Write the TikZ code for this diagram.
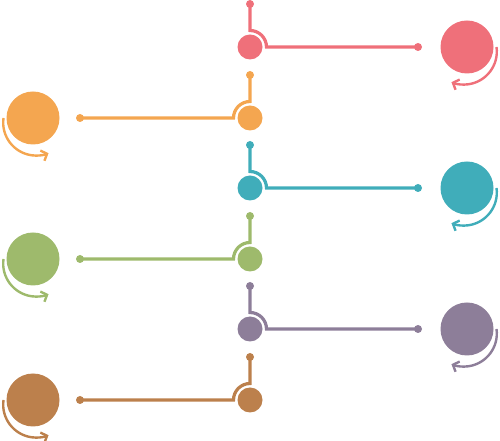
\documentclass[tikz,border=0pt]{standalone}
\usetikzlibrary{arrows.meta}
\definecolor{firststep}{RGB}{239,112,122}
\definecolor{secondstep}{RGB}{244,166,80}
\definecolor{thirdstep}{RGB}{64,173,186}
\definecolor{fourthstep}{RGB}{158,186,108}
\definecolor{fifthstep}{RGB}{141,126,153}
\definecolor{sixthstep}{RGB}{188,128,76}

\begin{document}
\begin{tikzpicture}[x=1pt, y=1pt]
    \tikzstyle{every node} = [circle, inner sep=0pt]
    \tikzstyle{hub} = [minimum size=25pt]
    \tikzstyle{dot} = [minimum size=8pt]
    \tikzstyle{disc} = [minimum size=53pt]
    \tikzstyle{branch} = [line width=3.2pt]
    \tikzstyle{turn} = [line width=2.4pt, -{Straight Barb[length=5pt, width=11pt]}]
    \useasboundingbox (0,0) rectangle (500,441);

    \node[hub, fill=firststep] (hubA) at (250,394) {};
    \node[dot, fill=firststep] (topA) at (250,437) {};
    \node[dot, fill=firststep] (endA) at (418,394) {};
    \node[disc, fill=firststep] (discA) at (467,394) {};
    \draw[branch, firststep] (topA.center) -- ([yshift=16.5pt]hubA.center)
        arc[start angle=90, end angle=0, radius=16.5pt] -- (endA.center);
    \draw[turn, firststep] ([shift={(29.5pt,0pt)}]discA.center)
        arc[start angle=8, end angle=-112, radius=33pt];

    \node[hub, fill=secondstep] (hubB) at (250,323) {};
    \node[dot, fill=secondstep] (topB) at (250,366) {};
    \node[dot, fill=secondstep] (endB) at (80,323) {};
    \node[disc, fill=secondstep] (discB) at (33,323) {};
    \draw[branch, secondstep] (topB.center) -- ([yshift=16.5pt]hubB.center)
        arc[start angle=90, end angle=180, radius=16.5pt] -- (endB.center);
    \draw[turn, secondstep] ([shift={(-29.5pt,0pt)}]discB.center)
        arc[start angle=172, end angle=292, radius=33pt];

    \node[hub, fill=thirdstep] (hubC) at (250,253) {};
    \node[dot, fill=thirdstep] (topC) at (250,296) {};
    \node[dot, fill=thirdstep] (endC) at (418,253) {};
    \node[disc, fill=thirdstep] (discC) at (467,253) {};
    \draw[branch, thirdstep] (topC.center) -- ([yshift=16.5pt]hubC.center)
        arc[start angle=90, end angle=0, radius=16.5pt] -- (endC.center);
    \draw[turn, thirdstep] ([shift={(29.5pt,0pt)}]discC.center)
        arc[start angle=8, end angle=-112, radius=33pt];

    \node[hub, fill=fourthstep] (hubD) at (250,182) {};
    \node[dot, fill=fourthstep] (topD) at (250,225) {};
    \node[dot, fill=fourthstep] (endD) at (80,182) {};
    \node[disc, fill=fourthstep] (discD) at (33,182) {};
    \draw[branch, fourthstep] (topD.center) -- ([yshift=16.5pt]hubD.center)
        arc[start angle=90, end angle=180, radius=16.5pt] -- (endD.center);
    \draw[turn, fourthstep] ([shift={(-29.5pt,0pt)}]discD.center)
        arc[start angle=172, end angle=292, radius=33pt];

    \node[hub, fill=fifthstep] (hubE) at (250,112) {};
    \node[dot, fill=fifthstep] (topE) at (250,155) {};
    \node[dot, fill=fifthstep] (endE) at (418,112) {};
    \node[disc, fill=fifthstep] (discE) at (467,112) {};
    \draw[branch, fifthstep] (topE.center) -- ([yshift=16.5pt]hubE.center)
        arc[start angle=90, end angle=0, radius=16.5pt] -- (endE.center);
    \draw[turn, fifthstep] ([shift={(29.5pt,0pt)}]discE.center)
        arc[start angle=8, end angle=-112, radius=33pt];

    \node[hub, fill=sixthstep] (hubF) at (250,41) {};
    \node[dot, fill=sixthstep] (topF) at (250,84) {};
    \node[dot, fill=sixthstep] (endF) at (80,41) {};
    \node[disc, fill=sixthstep] (discF) at (33,41) {};
    \draw[branch, sixthstep] (topF.center) -- ([yshift=16.5pt]hubF.center)
        arc[start angle=90, end angle=180, radius=16.5pt] -- (endF.center);
    \draw[turn, sixthstep] ([shift={(-29.5pt,0pt)}]discF.center)
        arc[start angle=172, end angle=292, radius=33pt];
\end{tikzpicture}
\end{document}
